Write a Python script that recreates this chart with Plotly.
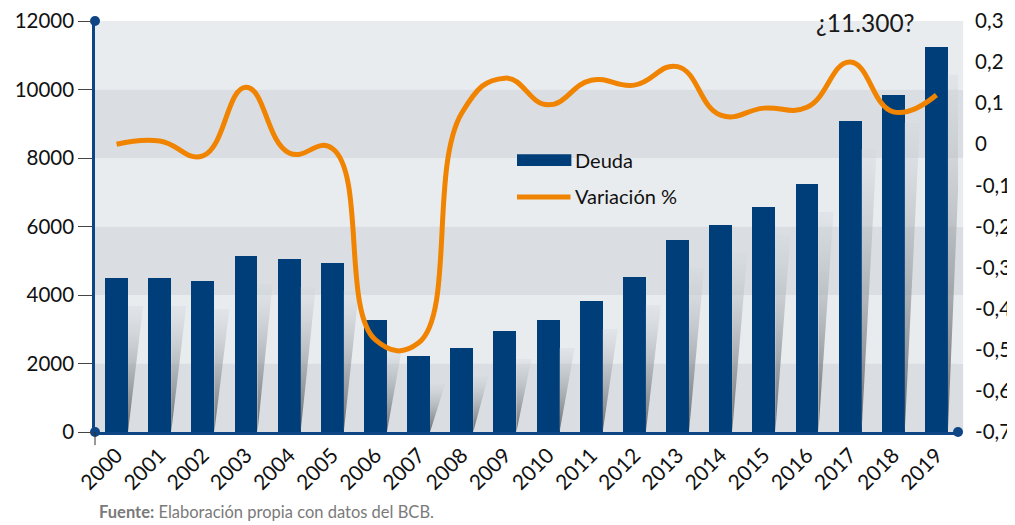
import plotly.graph_objects as go

# Data
years = [str(y) for y in range(2000, 2020)]
deuda = [4500, 4500, 4410, 5140, 5050, 4940, 3270, 2220, 2450, 2950,
         3270, 3825, 4530, 5610, 6040, 6570, 7240, 9080, 9840, 11250]
variacion = [0.0, 0.008, -0.028, 0.139, -0.021, -0.01, -0.476, -0.483, 0.076, 0.161,
             0.096, 0.156, 0.144, 0.189, 0.071, 0.088, 0.09, 0.2, 0.079, 0.12]

left_ticks = [0, 2000, 4000, 6000, 8000, 10000, 12000]
right_ticks = [-0.7, -0.6, -0.5, -0.4, -0.3, -0.2, -0.1, 0, 0.1, 0.2, 0.3]
right_labels = ['-0,7', '-0,6', '-0,5', '-0,4', '-0,3', '-0,2', '-0,1', '0', '0,1', '0,2', '0,3']

BLUE = '#003e7a'
AXIS_BLUE = '#0d4585'
ORANGE = '#f08300'
FONT = 'Lato'

x = list(range(len(years)))
bar_w = 0.53
x_range = [-0.5, len(years) - 0.5]
y_range = [0, 12000]

fig = go.Figure()

# slanted gradient shadows behind each bar
for i, v in enumerate(deuda):
    xr = i + bar_w / 2
    top = v - 820
    fig.add_trace(go.Scatter(
        x=[xr, xr + 0.35, xr, xr],
        y=[top, top, 0, top],
        mode='lines', line=dict(width=0),
        fill='toself',
        fillgradient=dict(type='vertical',
                          colorscale=[[0, 'rgba(95,100,106,0.95)'],
                                      [1, 'rgba(210,216,222,0.35)']]),
        hoverinfo='skip', showlegend=False
    ))

fig.add_trace(go.Bar(
    x=x, y=deuda, width=bar_w, marker=dict(color=BLUE, line=dict(width=0)),
    name='Deuda', showlegend=False
))

fig.add_trace(go.Scatter(
    x=x, y=variacion, yaxis='y2', mode='lines',
    line=dict(color=ORANGE, width=5, shape='spline', smoothing=1.3),
    name='Variación %', showlegend=False
))

# axis end dots
fig.add_trace(go.Scatter(
    x=[x_range[0], x_range[0], x_range[1]], y=[y_range[1], y_range[0], y_range[0]],
    mode='markers', marker=dict(size=10, color=AXIS_BLUE),
    cliponaxis=False, hoverinfo='skip', showlegend=False
))

# alternating background bands
band_colors = ['#dadee2', '#e9ecef']
shapes = []
for k in range(len(left_ticks) - 1):
    shapes.append(dict(type='rect', xref='paper', yref='y', layer='below',
                       x0=0, x1=1.006, y0=left_ticks[k], y1=left_ticks[k + 1],
                       fillcolor=band_colors[k % 2], line=dict(width=0)))

# custom legend
shapes.append(dict(type='rect', xref='paper', yref='paper',
                   x0=0.489, x1=0.552, y0=0.647, y1=0.676,
                   fillcolor=BLUE, line=dict(width=0)))
shapes.append(dict(type='line', xref='paper', yref='paper',
                   x0=0.489, x1=0.551, y0=0.572, y1=0.572,
                   line=dict(color=ORANGE, width=5)))
# small tick under the origin
shapes.append(dict(type='line', xref='paper', yref='paper',
                   x0=0, x1=0, y0=0, y1=-0.032,
                   line=dict(color='#333333', width=1)))

annotations = [
    dict(text='Deuda', xref='paper', yref='paper', x=0.554, y=0.662,
         xanchor='left', yanchor='middle', showarrow=False,
         font=dict(family=FONT, size=20, color='#111111')),
    dict(text='Variación %', xref='paper', yref='paper', x=0.554, y=0.574,
         xanchor='left', yanchor='middle', showarrow=False,
         font=dict(family=FONT, size=20, color='#111111')),
    dict(text='¿11.300?', xref='paper', yref='paper', x=0.893, y=0.997,
         xanchor='center', yanchor='middle', showarrow=False,
         font=dict(family=FONT, size=24.5, color='#1a1a1a')),
    dict(text='<b>Fuente:</b> Elaboración propia con datos del BCB.',
         xref='paper', yref='paper', x=0.002, y=-0.194,
         xanchor='left', yanchor='middle', showarrow=False,
         font=dict(family=FONT, size=16.5, color='#7a7a7a')),
]

# the page body adds an 8px offset, so the figure is sized to fit inside it
fig.update_layout(
    width=1007, height=517,
    margin=dict(l=87, r=57, t=13, b=93),
    paper_bgcolor='white', plot_bgcolor='#e9ecef',
    separators=',.',
    bargap=0,
    showlegend=False,
    font=dict(family=FONT, size=20.5, color='#111111'),
    xaxis=dict(range=x_range, tickmode='array', tickvals=x, ticktext=years,
               tickangle=-45, showgrid=False, zeroline=False, automargin=False,
               showline=True, linecolor=AXIS_BLUE, linewidth=2.5,
               ticks='', tickfont=dict(family=FONT, size=21)),
    yaxis=dict(range=y_range, tickmode='array', tickvals=left_ticks, tickformat='d',
               showgrid=False, zeroline=False, automargin=False,
               showline=True, linecolor=AXIS_BLUE, linewidth=2.5,
               ticks='outside', ticklen=14, tickcolor='#444444', tickwidth=1,
               tickfont=dict(family=FONT, size=20.5)),
    yaxis2=dict(range=[-0.7, 0.3], overlaying='y', side='right', automargin=False,
                tickmode='array', tickvals=right_ticks, ticktext=right_labels,
                showgrid=False, zeroline=False, showline=False,
                ticks='outside', ticklen=12, tickcolor='rgba(0,0,0,0)',
                tickfont=dict(family=FONT, size=20.5)),
    shapes=shapes,
    annotations=annotations,
)

fig.write_html("out.html")
